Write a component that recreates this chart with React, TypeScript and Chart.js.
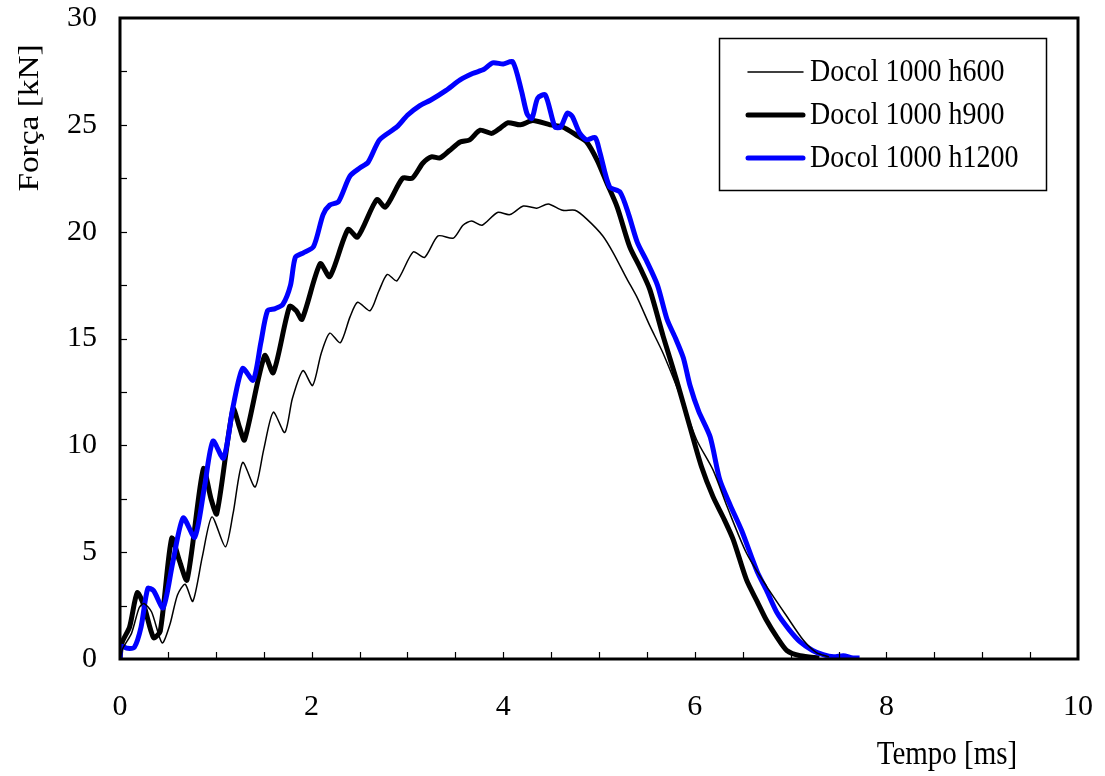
import React, { useEffect, useRef } from "react";
import { Chart, registerables } from "chart.js";

Chart.register(...registerables);

const seriesNames = ["Docol 1000 h600", "Docol 1000 h900", "Docol 1000 h1200"];

const tH600 = [0, 0.03, 0.12, 0.20, 0.25, 0.33, 0.44, 0.52, 0.60, 0.68, 0.76, 0.86, 0.96, 1.10, 1.18, 1.28, 1.41, 1.50, 1.60, 1.72, 1.80, 1.91, 2.01, 2.10, 2.19, 2.30, 2.40, 2.48, 2.61, 2.70, 2.79, 2.89, 3.06, 3.18, 3.32, 3.48, 3.58, 3.67, 3.78, 3.94, 4.07, 4.21, 4.35, 4.47, 4.62, 4.75, 4.87, 5.04, 5.15, 5.29, 5.40, 5.53, 5.67, 5.85, 6.02, 6.19, 6.34, 6.54, 6.75, 6.96, 7.13, 7.27, 7.40];
const fH600 = [0, 0.5, 1.2, 2.4, 2.6, 2.2, 0.75, 1.6, 3.0, 3.5, 2.7, 4.8, 6.65, 5.25, 6.8, 9.2, 8.05, 9.8, 11.55, 10.6, 12.2, 13.5, 12.8, 14.3, 15.25, 14.8, 16.0, 16.7, 16.3, 17.2, 18.0, 17.7, 19.05, 18.8, 19.8, 19.7, 20.3, 20.5, 20.3, 20.9, 20.8, 21.2, 21.1, 21.3, 21.0, 21.0, 20.6, 19.8, 19.0, 17.8, 16.9, 15.6, 14.3, 12.3, 10.25, 8.85, 7.1, 4.95, 3.4, 2.0, 0.9, 0.3, 0.1];

const tH900 = [0, 0.02, 0.10, 0.18, 0.25, 0.35, 0.42, 0.54, 0.62, 0.70, 0.87, 0.95, 1.01, 1.18, 1.25, 1.30, 1.51, 1.60, 1.77, 1.84, 1.90, 2.09, 2.19, 2.38, 2.48, 2.68, 2.77, 2.95, 3.05, 3.16, 3.25, 3.34, 3.44, 3.55, 3.65, 3.76, 3.88, 3.97, 4.05, 4.18, 4.31, 4.49, 4.62, 4.77, 4.87, 4.98, 5.08, 5.19, 5.32, 5.43, 5.53, 5.67, 5.81, 5.95, 6.07, 6.19, 6.30, 6.40, 6.54, 6.65, 6.75, 6.86, 6.96, 7.10, 7.30];
const fH900 = [0, 0.75, 1.5, 3.1, 2.5, 1.0, 1.3, 5.65, 4.6, 3.7, 8.9, 7.5, 6.8, 11.7, 10.8, 10.25, 14.2, 13.4, 16.5, 16.3, 15.9, 18.5, 17.9, 20.1, 19.75, 21.5, 21.15, 22.5, 22.5, 23.2, 23.5, 23.45, 23.8, 24.2, 24.3, 24.75, 24.6, 24.85, 25.1, 25.0, 25.2, 25.0, 24.9, 24.5, 24.2, 23.35, 22.3, 21.15, 19.3, 18.3, 17.3, 15.1, 13.05, 10.85, 9.0, 7.6, 6.6, 5.6, 3.7, 2.7, 1.8, 1.0, 0.4, 0.15, 0.05];

const tH1200 = [0, 0.01, 0.08, 0.15, 0.22, 0.29, 0.35, 0.45, 0.55, 0.66, 0.78, 0.88, 0.97, 1.08, 1.18, 1.28, 1.39, 1.47, 1.54, 1.62, 1.70, 1.78, 1.83, 1.91, 2.02, 2.12, 2.19, 2.28, 2.40, 2.51, 2.59, 2.71, 2.89, 3.00, 3.13, 3.24, 3.40, 3.55, 3.68, 3.80, 3.89, 4.00, 4.10, 4.19, 4.25, 4.30, 4.36, 4.44, 4.54, 4.60, 4.67, 4.72, 4.80, 4.87, 4.96, 5.01, 5.11, 5.22, 5.31, 5.40, 5.50, 5.61, 5.71, 5.80, 5.88, 5.95, 6.04, 6.16, 6.26, 6.37, 6.49, 6.65, 6.75, 6.86, 6.98, 7.10, 7.23, 7.34, 7.45, 7.55, 7.65, 7.72];
const fH1200 = [0, 0.6, 0.5, 0.55, 1.5, 3.3, 3.2, 2.4, 4.5, 6.6, 5.7, 8.0, 10.2, 9.4, 11.8, 13.6, 13.05, 14.8, 16.3, 16.4, 16.6, 17.5, 18.8, 19.0, 19.3, 20.8, 21.25, 21.4, 22.6, 23.0, 23.25, 24.3, 24.9, 25.45, 25.9, 26.15, 26.6, 27.1, 27.4, 27.6, 27.9, 27.85, 27.95, 26.6, 25.5, 25.3, 26.25, 26.4, 24.9, 24.9, 25.55, 25.4, 24.6, 24.3, 24.4, 23.7, 22.1, 21.85, 20.8, 19.5, 18.6, 17.5, 15.9, 15.0, 14.1, 12.8, 11.6, 10.4, 8.4, 7.2, 6.0, 4.1, 3.2, 2.15, 1.4, 0.8, 0.4, 0.2, 0.1, 0.15, 0.05, 0.05];

const xTickLabels = ["0", "2", "4", "6", "8", "10"];
const yTickLabels = ["0", "5", "10", "15", "20", "25", "30"];

const FONT = "Liberation Serif";
const colors = ["#000000", "#000000", "#0000ff"];
const widths = [1.5, 5, 5];

function pts(t: number[], f: number[]) {
  return t.map((x, i) => ({ x, y: f[i] }));
}

const decorPlugin = {
  id: "decor",
  afterDatasetsDraw(chart: any) {
    const { ctx, chartArea } = chart;
    const xs = chart.scales.x;
    const ys = chart.scales.y;
    ctx.save();
    ctx.strokeStyle = "#000";
    ctx.lineWidth = 1.2;
    for (let v = 0.5; v < 10; v += 0.5) {
      const px = Math.round(xs.getPixelForValue(v)) + 0.5;
      ctx.beginPath();
      ctx.moveTo(px, chartArea.bottom);
      ctx.lineTo(px, chartArea.bottom - 7);
      ctx.stroke();
    }
    for (let v = 2.5; v < 30; v += 2.5) {
      const py = Math.round(ys.getPixelForValue(v)) + 0.5;
      ctx.beginPath();
      ctx.moveTo(chartArea.left, py);
      ctx.lineTo(chartArea.left + 7, py);
      ctx.stroke();
    }
    ctx.lineWidth = 3;
    ctx.strokeRect(chartArea.left, chartArea.top, chartArea.right - chartArea.left, chartArea.bottom - chartArea.top);

    ctx.lineWidth = 1.5;
    ctx.strokeRect(719.5, 38.5, 327, 152);
    const rows = [72, 115, 158];
    ctx.lineCap = "round";
    rows.forEach((ry, i) => {
      ctx.strokeStyle = colors[i];
      ctx.lineWidth = widths[i];
      ctx.beginPath();
      ctx.moveTo(748, ry);
      ctx.lineTo(803, ry);
      ctx.stroke();
      ctx.save();
      ctx.fillStyle = "#000";
      ctx.font = `28px "${FONT}"`;
      ctx.textBaseline = "middle";
      ctx.translate(810, ry + 1);
      ctx.scale(1, 1.15);
      ctx.fillText(seriesNames[i], 0, 0);
      ctx.restore();
    });

    ctx.fillStyle = "#000";
    ctx.font = `29px "${FONT}"`;
    ctx.textBaseline = "middle";
    ctx.textAlign = "center";
    ctx.save();
    ctx.translate(947, 755);
    ctx.scale(1, 1.15);
    ctx.fillText("Tempo [ms]", 0, 0);
    ctx.restore();
    ctx.save();
    ctx.translate(30, 118);
    ctx.rotate(-Math.PI / 2);
    ctx.scale(1.15, 1);
    ctx.fillText("Força [kN]", 0, 0);
    ctx.restore();
    ctx.restore();
  },
};

export default function App() {
  const ref = useRef<HTMLCanvasElement | null>(null);
  useEffect(() => {
    if (!ref.current) return;
    const chart = new Chart(ref.current, {
      type: "line",
      data: {
        datasets: [
          { label: seriesNames[0], data: pts(tH600, fH600), borderColor: colors[0], borderWidth: widths[0], pointRadius: 0, tension: 0.25, order: 0 },
          { label: seriesNames[1], data: pts(tH900, fH900), borderColor: colors[1], borderWidth: widths[1], pointRadius: 0, tension: 0.25, order: 2 },
          { label: seriesNames[2], data: pts(tH1200, fH1200), borderColor: colors[2], borderWidth: widths[2], pointRadius: 0, tension: 0.25, order: 1 },
        ],
      },
      options: {
        animation: false,
        responsive: false,
        maintainAspectRatio: false,
        layout: { padding: { left: 0, top: 18, right: 27, bottom: 0 } },
        plugins: { legend: { display: false }, tooltip: { enabled: false } },
        scales: {
          x: {
            type: "linear",
            min: 0,
            max: 10,
            border: { display: false },
            grid: { display: false, drawTicks: false },
            ticks: {
              stepSize: 2,
              padding: 30,
              color: "#000",
              font: { family: FONT, size: 30 },
              maxRotation: 0,
              callback: (v: any) => xTickLabels[Math.round(Number(v) / 2)] ?? "",
            },
            afterFit: (s: any) => { s.height = 117; s.paddingLeft = 0; s.paddingRight = 0; },
          },
          y: {
            type: "linear",
            min: 0,
            max: 30,
            border: { display: false },
            grid: { display: false, drawTicks: false },
            ticks: {
              stepSize: 5,
              padding: 23,
              color: "#000",
              font: { family: FONT, size: 30 },
              callback: (v: any) => yTickLabels[Math.round(Number(v) / 5)] ?? "",
            },
            afterFit: (s: any) => { s.width = 120; s.paddingTop = 0; s.paddingBottom = 0; },
          },
        },
      },
      plugins: [decorPlugin],
    });
    return () => chart.destroy();
  }, []);
  return (
    <div style={{ position: "absolute", left: 0, top: 0, width: 1105, height: 776, background: "#fff" }}>
      <canvas ref={ref} width={1105} height={776} style={{ width: 1105, height: 776, display: "block" }} />
    </div>
  );
}
